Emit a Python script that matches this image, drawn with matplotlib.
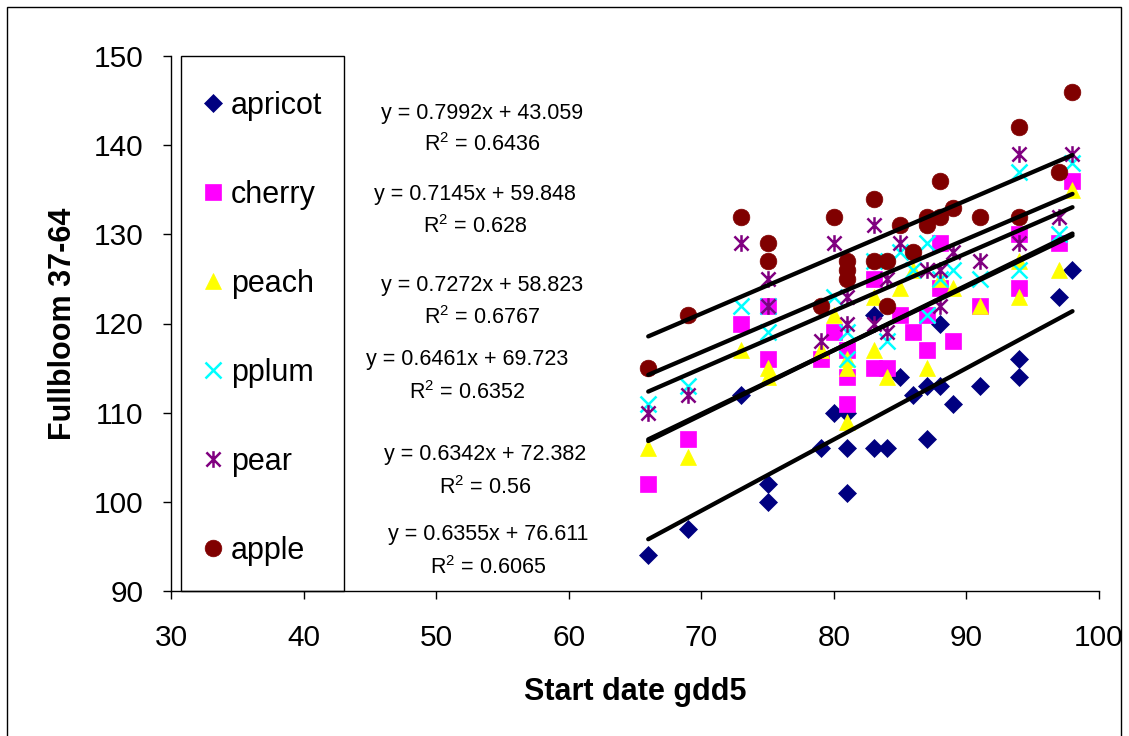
import numpy as np
import matplotlib
matplotlib.use("Agg")
import matplotlib.pyplot as plt
from matplotlib.path import Path
from matplotlib.patches import Rectangle
from matplotlib.lines import Line2D

plt.rcParams['font.family'] = ['Liberation Sans', 'DejaVu Sans']
plt.rcParams['mathtext.fontset'] = 'custom'
plt.rcParams['mathtext.rm'] = 'Liberation Sans'
plt.rcParams['mathtext.it'] = 'Liberation Sans'

# ---------------- data ----------------
series_names = ['apricot', 'cherry', 'peach', 'pplum', 'pear', 'apple']

apricot_x = [66, 69, 73, 75, 75, 79, 80, 81, 81, 81, 83, 83, 84, 85, 86, 87, 87, 88, 88, 89, 91, 94, 94, 97, 98]
apricot_y = [94, 97, 112, 102, 100, 106, 110, 110, 106, 101, 121, 106, 106, 114, 112, 113, 107, 120, 113, 111, 113, 116, 114, 123, 126]

cherry_x = [66, 69, 73, 75, 75, 79, 80, 81, 81, 81, 83, 83, 84, 85, 86, 87, 87, 88, 88, 89, 91, 94, 94, 97, 98]
cherry_y = [102, 107, 120, 122, 116, 116, 119, 117, 114, 111, 125, 115, 115, 121, 119, 121, 117, 129, 124, 118, 122, 130, 124, 129, 136]

peach_x = [66, 69, 73, 75, 75, 79, 80, 81, 81, 81, 83, 83, 84, 85, 86, 87, 88, 89, 91, 94, 94, 97, 98]
peach_y = [106, 105, 117, 115, 114, 117, 121, 116, 115, 109, 123, 117, 114, 124, 126, 115, 125, 124, 122, 127, 123, 126, 135]

pplum_x = [66, 69, 73, 75, 75, 80, 81, 81, 83, 84, 85, 86, 87, 87, 88, 89, 91, 94, 94, 97, 98]
pplum_y = [111, 113, 122, 122, 119, 123, 119, 116, 127, 118, 128, 126, 129, 121, 125, 126, 125, 137, 126, 130, 138]

pear_x = [66, 69, 73, 75, 75, 79, 80, 81, 81, 83, 83, 84, 84, 85, 87, 88, 88, 89, 91, 94, 94, 97, 98]
pear_y = [110, 112, 129, 125, 122, 118, 129, 123, 120, 131, 120, 125, 119, 129, 126, 126, 122, 128, 127, 139, 129, 132, 139]

apple_x = [66, 69, 73, 75, 75, 79, 80, 81, 81, 81, 83, 83, 84, 84, 85, 86, 87, 87, 88, 88, 89, 91, 94, 94, 97, 98]
apple_y = [115, 121, 132, 129, 127, 122, 132, 127, 126, 125, 134, 127, 127, 122, 131, 128, 132, 131, 136, 132, 133, 132, 142, 132, 137, 146]

# trendline equations as printed on the chart
slopes = [0.7992, 0.7145, 0.7272, 0.6461, 0.6342, 0.6355]
intercepts = [43.059, 59.848, 58.823, 69.723, 72.382, 76.611]
r_squared = ['0.6436', '0.628', '0.6767', '0.6352', '0.56', '0.6065']

x_ticks = [30, 40, 50, 60, 70, 80, 90, 100]
y_ticks = [90, 100, 110, 120, 130, 140, 150]

# ---------------- styling ----------------
asterisk = Path([(0, -1), (0, 1), (-0.85, -0.85), (0.85, 0.85), (-0.85, 0.85), (0.85, -0.85)],
                [Path.MOVETO, Path.LINETO, Path.MOVETO, Path.LINETO, Path.MOVETO, Path.LINETO])
styles = {
    'apricot': dict(marker='D', ms=9.5, mfc='#000080', mec='#000080', mew=0.5),
    'cherry': dict(marker='s', ms=11, mfc='#FF00FF', mec='#FF00FF', mew=0.5),
    'peach': dict(marker='^', ms=12, mfc='#FFFF00', mec='#FFFF00', mew=0.5),
    'pplum': dict(marker='x', ms=11, mfc='none', mec='#00FFFF', mew=1.8),
    'pear': dict(marker=asterisk, ms=12, mfc='none', mec='#800080', mew=1.8),
    'apple': dict(marker='o', ms=12, mfc='#800000', mec='#800000', mew=0.5),
}
data = {
    'apricot': (apricot_x, apricot_y),
    'cherry': (cherry_x, cherry_y),
    'peach': (peach_x, peach_y),
    'pplum': (pplum_x, pplum_y),
    'pear': (pear_x, pear_y),
    'apple': (apple_x, apple_y),
}
# equation label centres (data coords), layout only
eq_pos = [(53.46, 143.6, 140.1), (52.93, 134.5, 130.9), (53.46, 124.3, 120.7),
          (52.32, 116.0, 112.3), (53.68, 105.3, 101.6), (53.9, 96.3, 92.6)]

W, H = 1129, 736
fig = plt.figure(figsize=(W / 100, H / 100), dpi=100)
ax = fig.add_axes([171 / W, 1 - 591 / H, (1099 - 171) / W, (591 - 56) / H])

handles = []
for name in series_names:
    xs, ys = data[name]
    st = styles[name]
    ax.plot(xs, ys, linestyle='none', clip_on=False, zorder=3, **st)
    handles.append(Line2D([], [], linestyle='none', **st))

for i, name in enumerate(series_names):
    xs = np.array(data[name][0], dtype=float)
    xl = np.array([xs.min(), xs.max()])
    ax.plot(xl, slopes[i] * xl + intercepts[i], color='black', lw=3.1, zorder=4,
            solid_capstyle='round')

for i in range(len(series_names)):
    xc, ye, yr = eq_pos[i]
    ax.text(xc, ye, f'y = {slopes[i]}x + {intercepts[i]}', ha='center', va='center',
            fontsize=15.5, color='black', clip_on=False)
    ax.text(xc, yr, f'R$^2$ = {r_squared[i]}', ha='center', va='center',
            fontsize=15.5, color='black', clip_on=False)

ax.set_xlim(30, 100)
ax.set_ylim(90, 150)
ax.set_xticks(x_ticks)
ax.set_yticks(y_ticks)
ax.tick_params(axis='both', direction='out', length=6, width=1, labelsize=21.5, colors='black')
ax.tick_params(axis='x', pad=17.5)
ax.tick_params(axis='y', pad=14)
for s in ['top', 'right']:
    ax.spines[s].set_visible(False)
for s in ['left', 'bottom']:
    ax.spines[s].set_linewidth(1.0)
    ax.spines[s].set_color('black')

ax.set_xlabel('Start date gdd5', fontsize=22, fontweight='bold', labelpad=18)
ax.set_ylabel('Fullbloom 37-64', fontsize=22, fontweight='bold', labelpad=11)

# legend frame + entries
lx0 = (181 - 171) / 928
lx1 = (344 - 171) / 928
ax.add_patch(Rectangle((lx0, 0), lx1 - lx0, 1, transform=ax.transAxes, fill=False,
                       edgecolor='black', lw=1.0, clip_on=False, zorder=5))
ax.legend(handles, series_names, loc='upper left', bbox_to_anchor=(0.034, 0.9345),
          frameon=False, fontsize=22, labelspacing=1.93, handlelength=0.7,
          handletextpad=0.22, borderpad=0, borderaxespad=0, numpoints=1)

# outer chart border
fig.patches.append(Rectangle((7 / W, -0.01), (1121 - 7) / W, 1 - 7 / H + 0.01,
                             transform=fig.transFigure, fill=False, edgecolor='black', lw=1.0))

fig.savefig('out.png', dpi=100)
